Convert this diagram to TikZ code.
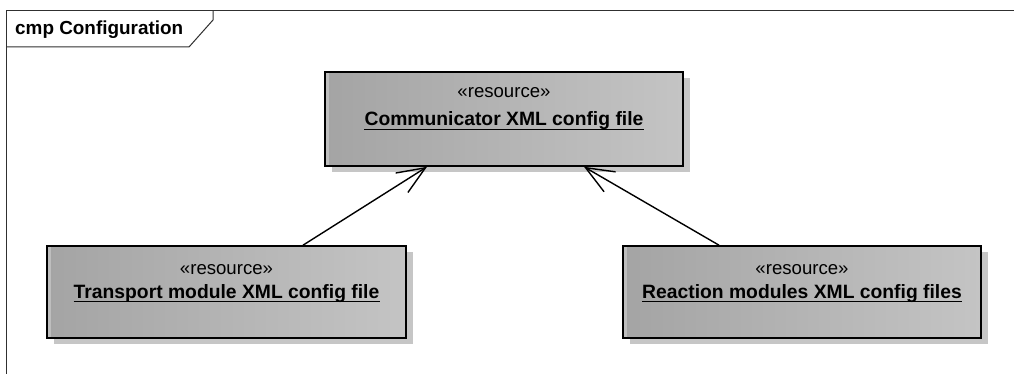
\documentclass[tikz,border=0pt]{standalone}
\usepackage{fontspec}
\setmainfont{Liberation Sans}
\usetikzlibrary{arrows.meta,shadows}
\definecolor{boxdark}{HTML}{A4A4A4}
\definecolor{boxmid}{HTML}{BDBDBD}
\definecolor{boxlight}{HTML}{C4C4C4}
\definecolor{boxstrip}{HTML}{BEBEBE}
\definecolor{shadowgray}{HTML}{C6C6C6}
\definecolor{framegray}{HTML}{303030}
\tikzset{
  resbox/.style={draw=black, line width=1.6pt, minimum width=358pt, minimum height=93pt,
    inner sep=0pt, left color=boxdark, middle color=boxmid, right color=boxlight,
    drop shadow={shadow xshift=7pt, shadow yshift=-6pt, fill=shadowgray, opacity=1},
    path picture={\fill[boxstrip] (path picture bounding box.north west)
      rectangle ([xshift=3.5pt]path picture bounding box.south west);}},
  stereo/.style={anchor=base, inner sep=0pt, font=\fontsize{18.6}{22}\selectfont},
  resname/.style={anchor=base, inner sep=0pt, font=\fontsize{19.3}{23}\selectfont\bfseries},
  uline/.style={line width=1.3pt},
  depends/.style={line width=1.4pt, -{Straight Barb[length=28pt, width=23pt, line width=1.4pt]}},
  framebox/.style={draw=framegray, line width=1pt},
  frametitle/.style={anchor=base west, inner sep=0pt, font=\fontsize{18.9}{22}\selectfont\bfseries}
}
\begin{document}
\begin{tikzpicture}[x=1pt, y=-1pt]
  \useasboundingbox (0,0) rectangle (1014,374);

  % diagram frame with its name tab
  \coordinate (frTL) at (6,11);
  \coordinate (frTR) at (1014,11);
  \coordinate (frBL) at (6,374);
  \draw[framebox] (frTR) -- (frTL) -- (frBL);
  \draw[framebox] (6,47) -- (189,47) -- (213,20) -- (213,11);
  \node[frametitle] (title) at (15,35) {cmp Configuration};

  % resources
  \node[resbox, minimum height=94pt] (comm) at (504,119) {};
  \node[stereo] (commst) at (504,98) {«resource»};
  \node[resname] (commnm) at (504,126) {Communicator XML config file};
  \draw[uline] ([yshift=-3.3pt]commnm.base west) -- ([yshift=-3.3pt]commnm.base east);

  \node[resbox, minimum width=359pt, minimum height=92pt] (trans) at (226.5,292) {};
  \node[stereo] (transst) at (226.5,274) {«resource»};
  \node[resname] (transnm) at (226.5,298.5) {Transport module XML config file};
  \draw[uline] ([yshift=-3.3pt]transnm.base west) -- ([yshift=-3.3pt]transnm.base east);

  \node[resbox, minimum height=92pt] (react) at (802,292) {};
  \node[stereo] (reactst) at (802,274) {«resource»};
  \node[resname] (reactnm) at (802,298.5) {Reaction modules XML config files};
  \draw[uline] ([yshift=-3.3pt]reactnm.base west) -- ([yshift=-3.3pt]reactnm.base east);

  % dependencies
  \draw[depends] ([xshift=76.5pt]trans.north) -- ([xshift=-77pt]comm.south);
  \draw[depends] ([xshift=-83pt]react.north) -- ([xshift=80pt]comm.south);
\end{tikzpicture}
\end{document}
